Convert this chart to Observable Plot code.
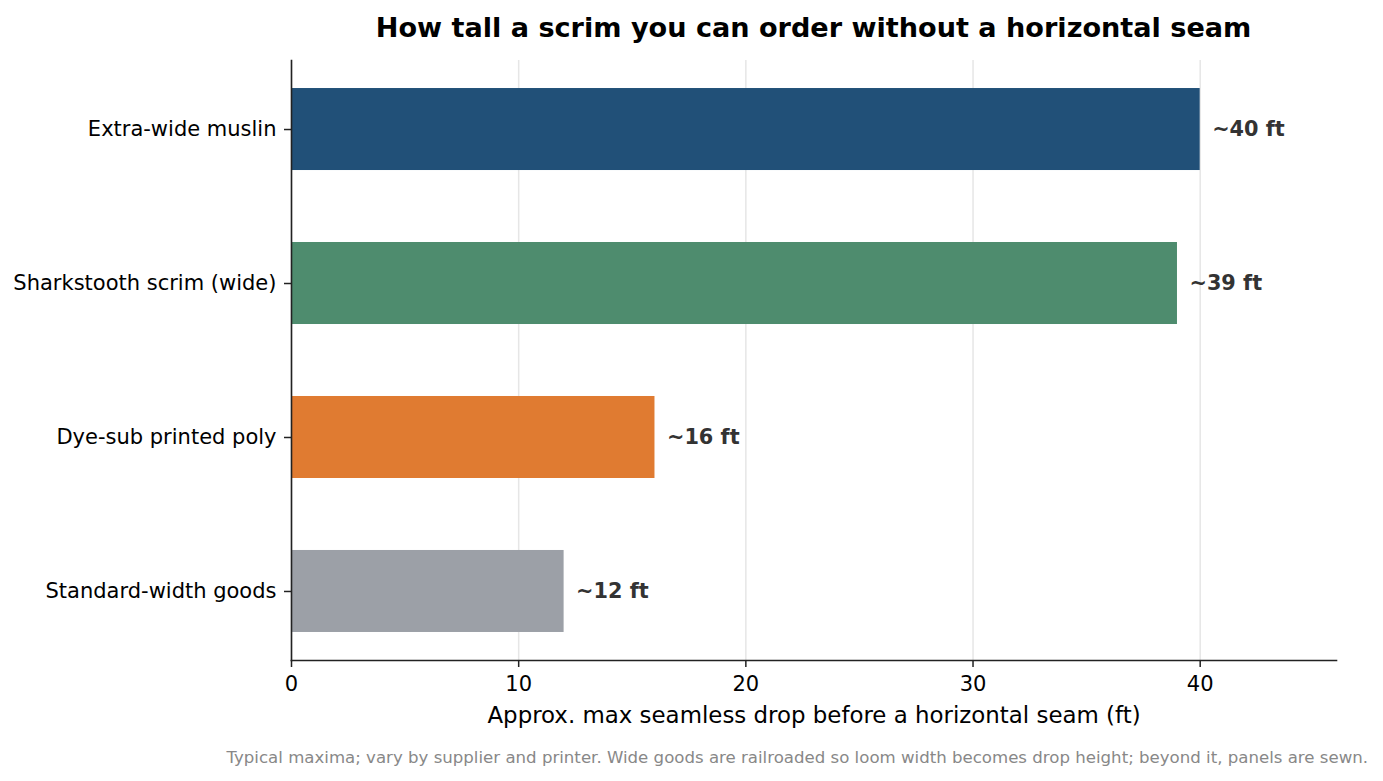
<!DOCTYPE html>
<html>
<head>
<meta charset="utf-8">
<script src="https://cdn.jsdelivr.net/npm/d3@7"></script>
<script src="https://cdn.jsdelivr.net/npm/@observablehq/plot@0.6"></script>
<style>
  html, body { margin: 0; padding: 0; background: #fff; }
  body { width: 1383px; height: 781px; overflow: hidden; font-family: "DejaVu Sans", sans-serif; }
  #title { position: relative; height: 50px; }
  #title span { position: absolute; left: 813.5px; top: 27px; transform: translate(-50%, -50%);
    font-weight: bold; font-size: 27.1px; white-space: nowrap; color: #000; }
  #caption { position: relative; height: 41px; }
  #caption span { position: absolute; right: 15px; top: 17px; transform: translateY(-50%);
    font-size: 16.6px; color: #888; white-space: nowrap; }
  svg { display: block; }
</style>
</head>
<body>
<div id="title"><span>How tall a scrim you can order without a horizontal seam</span></div>
<div id="chart"></div>
<div id="caption"><span>Typical maxima; vary by supplier and printer. Wide goods are railroaded so loom width becomes drop height; beyond it, panels are sewn.</span></div>
<script>
const categories = ["Extra-wide muslin", "Sharkstooth scrim (wide)", "Dye-sub printed poly", "Standard-width goods"];
const values = [40, 39, 16, 12];
const valueLabels = ["~40 ft", "~39 ft", "~16 ft", "~12 ft"];
const colors = ["#215078", "#4e8c6e", "#e07b31", "#9ca0a7"];
const xTicks = [0, 10, 20, 30, 40];
const xLabel = "Approx. max seamless drop before a horizontal seam (ft)";

const data = categories.map((c, i) => ({name: c, value: values[i], label: valueLabels[i]}));

const chart = Plot.plot({
  width: 1383,
  height: 690,
  marginLeft: 291,
  marginRight: 47,
  marginTop: 10,
  marginBottom: 80,
  style: {fontFamily: "DejaVu Sans", fontSize: "21px", color: "#000", background: "#fff"},
  x: {domain: [0, 46], ticks: xTicks},
  y: {domain: categories, paddingInner: 0.4675, paddingOuter: 0.182, round: false},
  color: {domain: categories, range: colors},
  marks: [
    Plot.gridX(xTicks, {stroke: "#e6e6e6", strokeOpacity: 1, strokeWidth: 1.5}),
    Plot.barX(data, {x: "value", y: "name", fill: "name"}),
    Plot.text(data, {x: "value", y: "name", text: "label", dx: 12, textAnchor: "start",
      fontWeight: "bold", fill: "#333", fontSize: 20.8}),
    Plot.axisX({ticks: xTicks, tickSize: 7, tickPadding: 9, label: null, fontSize: 21, stroke: "#222", strokeWidth: 1.5}),
    Plot.axisY({tickSize: 7, tickPadding: 8, label: null, fontSize: 21, stroke: "#222", strokeWidth: 1.5}),
    Plot.frame({anchor: "left", stroke: "#222", strokeWidth: 1.6}),
    Plot.frame({anchor: "bottom", stroke: "#222", strokeWidth: 1.6}),
    Plot.text([xLabel], {text: d => d, frameAnchor: "bottom", dy: 62, fontSize: 22.9, fill: "#000"})
  ]
});
document.getElementById("chart").appendChild(chart);
</script>
</body>
</html>
